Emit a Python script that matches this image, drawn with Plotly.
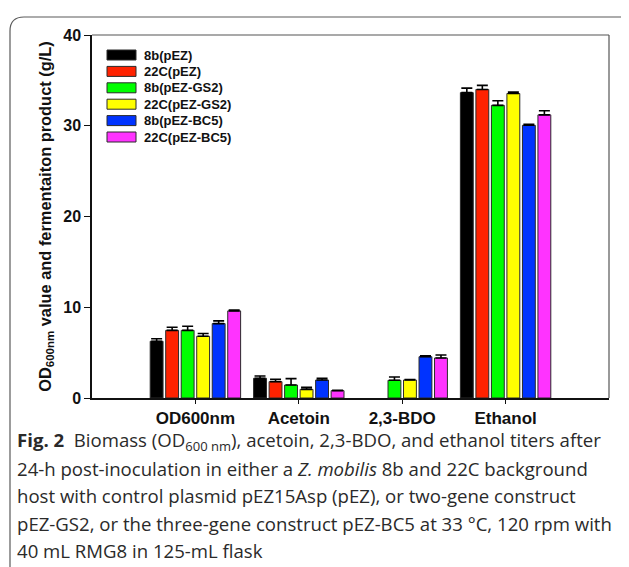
import plotly.graph_objects as go

categories = ["OD600nm", "Acetoin", "2,3-BDO", "Ethanol"]
series_names = ["8b(pEZ)", "22C(pEZ)", "8b(pEZ-GS2)", "22C(pEZ-GS2)", "8b(pEZ-BC5)", "22C(pEZ-BC5)"]
colors = ["#000000", "#ff2200", "#00ff00", "#ffff00", "#0033ff", "#ff33ff"]

v_8b_pEZ = [6.25, 2.17, None, 33.65]
v_22C_pEZ = [7.45, 1.80, None, 34.0]
v_8b_GS2 = [7.45, 1.43, 1.95, 32.25]
v_22C_GS2 = [6.80, 0.95, 1.98, 33.55]
v_8b_BC5 = [8.20, 1.98, 4.55, 30.05]
v_22C_BC5 = [9.60, 0.81, 4.41, 31.20]

e_8b_pEZ = [0.28, 0.25, None, 0.50]
e_22C_pEZ = [0.35, 0.26, None, 0.45]
e_8b_GS2 = [0.45, 0.70, 0.36, 0.50]
e_22C_GS2 = [0.30, 0.22, 0.05, 0.15]
e_8b_BC5 = [0.30, 0.19, 0.10, 0.12]
e_22C_BC5 = [0.10, 0.05, 0.33, 0.45]

values = [v_8b_pEZ, v_22C_pEZ, v_8b_GS2, v_22C_GS2, v_8b_BC5, v_22C_BC5]
errors = [e_8b_pEZ, e_22C_pEZ, e_8b_GS2, e_22C_GS2, e_8b_BC5, e_22C_BC5]

y_ticks = [0, 10, 20, 30, 40]

caption_lines = [
    "<b>Fig. 2</b>  Biomass (OD<sub>600 nm</sub>), acetoin, 2,3-BDO, and ethanol titers after",
    "24-h post-inoculation in either a <i>Z. mobilis</i> 8b and 22C background",
    "host with control plasmid pEZ15Asp (pEZ), or two-gene construct",
    "pEZ-GS2, or the three-gene construct pEZ-BC5 at 33 °C, 120 rpm with",
    "40 mL RMG8 in 125-mL flask",
]

# page body has an 8px default margin; positions below are in screenshot pixels
OFF = 8
W, H = 629 - OFF, 567 - OFF
ML, MR, MT, MB = 92 - OFF, 20, 35 - OFF, 169
PW, PH = W - ML - MR, H - MT - MB


def px(sx):
    return (sx - OFF - ML) / PW


def py(sy):
    return (H - MB - (sy - OFF)) / PH


fig = go.Figure()
for name, col, vals, errs in zip(series_names, colors, values, errors):
    fig.add_trace(go.Bar(
        x=categories, y=vals, name=name,
        marker=dict(color=col, line=dict(color="#2a2a2a", width=1)),
        error_y=dict(type="data", array=errs, arrayminus=[0] * len(errs), symmetric=False,
                     color="#000000", thickness=1.6, width=5.5),
        showlegend=False,
    ))

shapes = []
annotations = []

# plot frame top/right (gray)
shapes.append(dict(type="line", xref="paper", yref="paper", x0=0, x1=1, y0=1, y1=1,
                   line=dict(color="#555555", width=1.2)))
shapes.append(dict(type="line", xref="paper", yref="paper", x0=1, x1=1, y0=0, y1=1,
                   line=dict(color="#555555", width=1.2)))

# outer rounded frame
r = 14
x0, yt = 10, 17
path = (f"M {px(x0)},{py(580)} L {px(x0)},{py(yt + r)} "
        f"Q {px(x0)},{py(yt)} {px(x0 + r)},{py(yt)} L {px(640)},{py(yt)}")
shapes.append(dict(type="path", xref="paper", yref="paper", path=path,
                   line=dict(color="#5a5a5a", width=1.2)))

# manual legend
leg_y0 = 55
leg_dy = 16.4
for i, (name, col) in enumerate(zip(series_names, colors)):
    cy = leg_y0 + i * leg_dy
    shapes.append(dict(type="rect", xref="paper", yref="paper",
                       x0=px(107), x1=px(136), y0=py(cy - 5), y1=py(cy + 5),
                       fillcolor=col, line=dict(color="#2a2a2a", width=1)))
    annotations.append(dict(xref="paper", yref="paper", x=px(142), y=py(cy),
                            xanchor="left", yanchor="middle", showarrow=False,
                            text=f"<b>{name}</b>",
                            font=dict(family="Liberation Sans, Arial", size=13, color="#111")))

# caption
cap_y0 = 441
cap_dy = 27.4
for i, line in enumerate(caption_lines):
    annotations.append(dict(xref="paper", yref="paper", x=px(15), y=py(cap_y0 + i * cap_dy),
                            xanchor="left", yanchor="middle", showarrow=False,
                            text=line,
                            font=dict(family="Open Sans", size=18.6, color="#2a2a2a")))

fig.update_layout(
    width=W, height=H,
    margin=dict(l=ML, r=MR, t=MT, b=MB),
    paper_bgcolor="white", plot_bgcolor="white",
    barmode="group", bargap=0.1, bargroupgap=0.17,
    shapes=shapes, annotations=annotations,
    font=dict(family="Liberation Sans, Arial", color="#111"),
    xaxis=dict(range=[-1, 4], showline=True, linecolor="#111", linewidth=1.5,
               ticks="outside", ticklen=4, tickcolor="#111", tickwidth=1.2,
               tickfont=dict(size=17, family="Liberation Sans, Arial", weight="bold"),
               showgrid=False, zeroline=False, fixedrange=True),
    yaxis=dict(range=[0, 40], tickvals=y_ticks, showline=True, linecolor="#111", linewidth=1.5,
               ticks="outside", ticklen=6, tickcolor="#111", tickwidth=1.2,
               tickfont=dict(size=16, family="Liberation Sans, Arial", weight="bold"),
               showgrid=False, zeroline=False,
               title=dict(text="<b>OD<sub>600nm</sub> value and fermentaiton product (g/L)</b>",
                          font=dict(size=16.4, family="Liberation Sans, Arial"), standoff=8)),
)

fig.write_html("out.html")
